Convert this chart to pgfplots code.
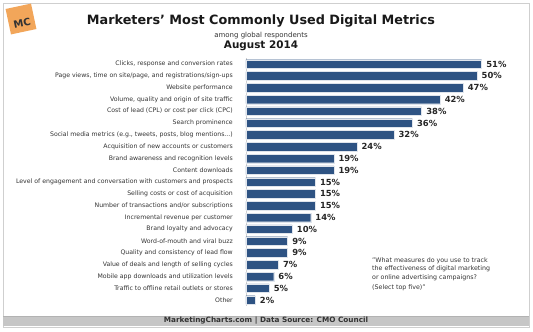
\documentclass[border=0pt]{standalone}
\usepackage{pgfplots}
\pgfplotsset{compat=1.18}
\usepackage{fontspec}
\setmainfont{DejaVu Sans}
\definecolor{barblue}{HTML}{2E5383}
\definecolor{txt}{HTML}{333333}
\definecolor{footgray}{HTML}{C6C6C6}
\definecolor{framegray}{HTML}{CFCFCF}
\definecolor{mcorange}{HTML}{F2A65A}
\begin{document}
\begin{tikzpicture}[x=1pt,y=1pt]
\path[use as bounding box] (0,0) rectangle (533,332);
% frame and footer
\draw[framegray,line width=0.8pt] (3,5) rectangle (529,329);
\fill[footgray] (3.4,6) rectangle (528.6,16);
\draw[gray!60,line width=0.4pt] (3.4,16) -- (528.6,16);
\node[font=\fontsize{7.3}{8}\selectfont\bfseries,text=txt] at (266,11.4) {MarketingCharts.com | Data Source: CMO Council};
% logo
\node[rotate=12,fill=mcorange,minimum size=26pt,inner sep=0pt] at (21,313) {};
\node[rotate=12,font=\fontsize{10}{10}\selectfont\bfseries,text=black!80] at (22,309) {MC};
% titles
\node[font=\fontsize{12.8}{14}\selectfont\bfseries,text=black!90] at (261,311) {Marketers' Most Commonly Used Digital Metrics};
\node[font=\fontsize{7}{8}\selectfont,text=txt] at (261,296) {among global respondents};
\node[font=\fontsize{10.4}{12}\selectfont\bfseries,text=black!90] at (261,286) {August 2014};
% note
\node[anchor=north west,align=left,inner sep=0pt,font=\fontsize{6.3}{8.5}\selectfont,text=txt] at (372,74.5)
 {"What measures do you use to track\\the effectiveness of digital marketing\\or online advertising campaigns?\\[1.5pt](Select top five)"};
\begin{axis}[
  at={(246pt,26.1pt)}, anchor=south west,
  scale only axis, width=277.2pt, height=247.8pt,
  xbar, bar width=8.6pt,
  xmin=0, xmax=60, ymin=-0.5, ymax=20.5,
  y dir=reverse,
  hide x axis,
  axis y line*=left,
  y axis line style={draw=framegray,line width=0.6pt},
  major tick length=0pt,
  ytick={0,1,2,3,4,5,6,7,8,9,10,11,12,13,14,15,16,17,18,19,20},
  yticklabels={
    {Clicks, response and conversion rates},
    {Page views, time on site/page, and registrations/sign-ups},
    {Website performance},
    {Volume, quality and origin of site traffic},
    {Cost of lead (CPL) or cost per click (CPC)},
    {Search prominence},
    {Social media metrics (e.g., tweets, posts, blog mentions.{}.{}.)},
    {Acquisition of new accounts or customers},
    {Brand awareness and recognition levels},
    {Content downloads},
    {Level of engagement and conversation with customers and prospects},
    {Selling costs or cost of acquisition},
    {Number of transactions and/or subscriptions},
    {Incremental revenue per customer},
    {Brand loyalty and advocacy},
    {Word-of-mouth and viral buzz},
    {Quality and consistency of lead flow},
    {Value of deals and length of selling cycles},
    {Mobile app downloads and utilization levels},
    {Traffic to offline retail outlets or stores},
    {Other}},
  yticklabel style={font=\fontsize{6.2}{7}\selectfont,text=txt,anchor=east,inner sep=0pt,xshift=-13pt},
  nodes near coords={\pgfmathprintnumber[assume math mode=true]{\pgfplotspointmeta}\%},
  nodes near coords style={font=\fontsize{8.4}{9}\selectfont\bfseries,text=black!85,anchor=west,inner sep=0pt,xshift=4.6pt},
  clip=false,
]
\addplot[fill=barblue,draw=white!85!barblue,line width=0.3pt] coordinates {
 (51,0) (50,1) (47,2) (42,3) (38,4) (36,5) (32,6) (24,7) (19,8) (19,9)
 (15,10) (15,11) (15,12) (14,13) (10,14) (9,15) (9,16) (7,17) (6,18) (5,19) (2,20)};
\end{axis}
\end{tikzpicture}
\end{document}
